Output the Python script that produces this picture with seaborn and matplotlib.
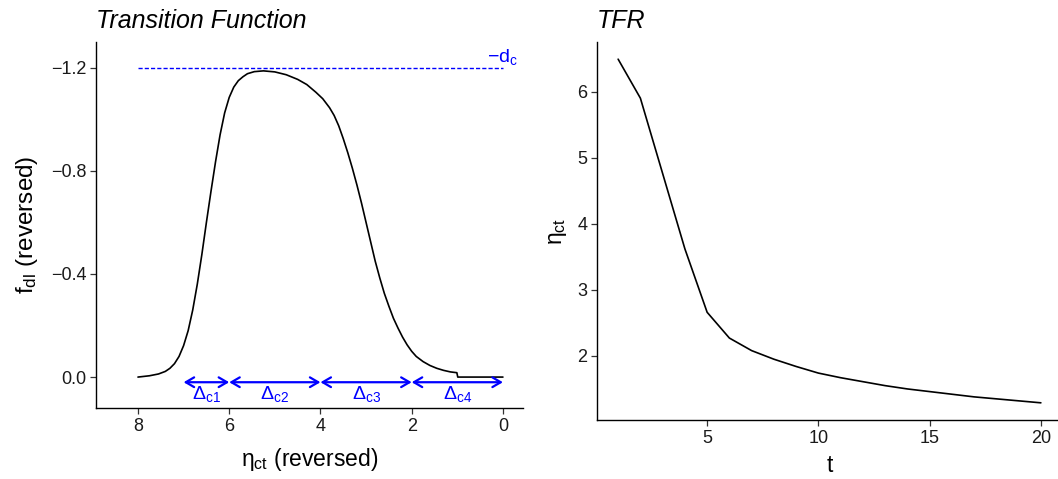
import numpy as np
import pandas as pd
import matplotlib
matplotlib.use("Agg")
import matplotlib.pyplot as plt
import seaborn as sns

# transition function (eta descending)
eta = [8.0, 7.75, 7.55, 7.4, 7.3, 7.2, 7.1, 7.0, 6.9, 6.8, 6.7, 6.6, 6.5, 6.4,
       6.3, 6.2, 6.1, 6.0, 5.9, 5.8, 5.7, 5.6, 5.45, 5.25, 5.0, 4.75, 4.5, 4.3,
       4.1, 3.95, 3.8, 3.7, 3.6, 3.5, 3.4, 3.3, 3.2, 3.1, 3.0, 2.9, 2.8, 2.7,
       2.6, 2.5, 2.4, 2.3, 2.2, 2.1, 2.0, 1.9, 1.75, 1.6, 1.45, 1.3, 1.15, 1.01,
       0.99, 0.0]
f_dl = [0.0, -0.005, -0.012, -0.022, -0.034, -0.052, -0.08, -0.122, -0.18,
        -0.26, -0.36, -0.475, -0.60, -0.72, -0.835, -0.94, -1.025, -1.085,
        -1.125, -1.15, -1.165, -1.177, -1.185, -1.188, -1.184, -1.173, -1.155,
        -1.135, -1.105, -1.08, -1.045, -1.015, -0.975, -0.925, -0.87, -0.81,
        -0.745, -0.675, -0.60, -0.525, -0.45, -0.385, -0.325, -0.275, -0.228,
        -0.19, -0.155, -0.125, -0.10, -0.08, -0.06, -0.045, -0.034, -0.026,
        -0.02, -0.017, 0.0, 0.0]

d_c = 1.2
delta_starts = [7, 6, 4, 2]
delta_ends = [6, 4, 2, 0]
delta_labels = [r"$\Delta_{\mathrm{c1}}$", r"$\Delta_{\mathrm{c2}}$",
                r"$\Delta_{\mathrm{c3}}$", r"$\Delta_{\mathrm{c4}}$"]

# TFR trajectory
t = list(range(1, 21))
tfr = [6.49, 5.90, 4.76, 3.62, 2.66, 2.27, 2.08, 1.95, 1.84, 1.74,
       1.67, 1.61, 1.55, 1.50, 1.46, 1.42, 1.38, 1.35, 1.32, 1.29]

sns.set_style("ticks")
plt.rcParams["font.family"] = ["Liberation Sans", "DejaVu Sans"]
plt.rcParams["mathtext.fontset"] = "custom"
plt.rcParams["mathtext.rm"] = "Liberation Sans"
plt.rcParams["mathtext.it"] = "Liberation Sans:italic"
plt.rcParams["mathtext.bf"] = "Liberation Sans:bold"
plt.rcParams["text.color"] = "black"
plt.rcParams["axes.labelcolor"] = "black"

W, H = 1058, 479
fig = plt.figure(figsize=(W / 100, H / 100), dpi=100)
ax1 = fig.add_axes([96 / W, (H - 408) / H, (523 - 96) / W, (408 - 42) / H])
ax2 = fig.add_axes([597 / W, (H - 420) / H, (1062 - 597) / W, (420 - 42) / H])

blue = "#0000FF"

# left panel
df_tf = pd.DataFrame({"eta": eta, "f": f_dl})
sns.lineplot(data=df_tf, x="eta", y="f", ax=ax1, color="black", lw=1.2,
             estimator=None, sort=False)
ax1.plot([8, 0], [-d_c, -d_c], color=blue, lw=1.0, dashes=(3, 1.5))
ax1.text(0, -d_c - 0.003, r"$-\mathrm{d_c}$", color=blue, fontsize=14,
         ha="center", va="bottom")
for s, e, lab in zip(delta_starts, delta_ends, delta_labels):
    ax1.annotate("", xy=(e, 0.02), xytext=(s, 0.02),
                 arrowprops=dict(arrowstyle="<->,head_length=0.6,head_width=0.35",
                                 color=blue, lw=1.6, shrinkA=0, shrinkB=0))
    ax1.text((s + e) / 2, 0.064, lab, color=blue, fontsize=14,
             ha="center", va="center")
ax1.set_xlim(8.92, -0.44)
ax1.set_ylim(0.12, -1.30)
ax1.set_xticks([8, 6, 4, 2, 0])
ax1.set_yticks([-1.2, -0.8, -0.4, 0.0])
ax1.set_yticklabels(["\u22121.2", "\u22120.8", "\u22120.4", "0.0"])
ax1.set_xlabel(r"$\mathrm{\eta_{ct}}$ (reversed)", fontsize=16.5, labelpad=8)
ax1.set_ylabel(r"$\mathrm{f_{dl}}$ (reversed)", fontsize=17.5, labelpad=8)
ax1.set_title("Transition Function", loc="left", fontsize=18, style="italic", pad=10)

# right panel
df_tfr = pd.DataFrame({"t": t, "tfr": tfr})
sns.lineplot(data=df_tfr, x="t", y="tfr", ax=ax2, color="black", lw=1.2,
             estimator=None)
ax2.set_xlim(0.05, 20.95)
ax2.set_ylim(1.03, 6.75)
ax2.set_xticks([5, 10, 15, 20])
ax2.set_yticks([2, 3, 4, 5, 6])
ax2.set_xlabel("t", fontsize=16.5, labelpad=5)
ax2.set_ylabel(r"$\mathrm{\eta_{ct}}$", fontsize=16.5, labelpad=6)
ax2.set_title("TFR", loc="left", fontsize=18, style="italic", pad=10)

for ax in (ax1, ax2):
    sns.despine(ax=ax)
    ax.tick_params(labelsize=13, length=4, width=0.9, color="#333333",
                   labelcolor="#1a1a1a", pad=3)
    for sp in ("left", "bottom"):
        ax.spines[sp].set_linewidth(1.0)
        ax.spines[sp].set_color("black")

fig.savefig("out.png", dpi=100)
